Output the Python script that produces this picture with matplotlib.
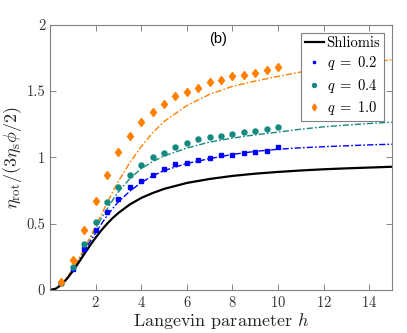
import matplotlib
matplotlib.use("Agg")
import matplotlib.pyplot as plt

plt.rcParams["font.family"] = "serif"
plt.rcParams["font.serif"] = ["cmr10", "DejaVu Serif"]
plt.rcParams["mathtext.fontset"] = "cm"
plt.rcParams["axes.formatter.use_mathtext"] = True

# theory curves
h_line = [0, 0.25, 0.5, 0.75, 1, 1.25, 1.5, 1.75, 2, 2.25, 2.5, 2.75, 3, 3.5, 4, 4.5, 5,
          6, 7, 8, 9, 10, 11, 12, 13, 14, 15]
shliomis = [0, 0.010, 0.040, 0.087, 0.143, 0.206, 0.271, 0.335, 0.395, 0.450, 0.499, 0.543, 0.581,
            0.645, 0.694, 0.731, 0.762, 0.807, 0.837, 0.860, 0.877, 0.890, 0.901, 0.910, 0.917, 0.923, 0.929]
line_q02 = [0, 0.011, 0.042, 0.090, 0.150, 0.218, 0.290, 0.362, 0.430, 0.498, 0.560, 0.615, 0.665,
            0.745, 0.810, 0.860, 0.900, 0.954, 0.990, 1.022, 1.045, 1.061, 1.072, 1.080, 1.087, 1.094, 1.099]
line_q04 = [0, 0.011, 0.043, 0.093, 0.155, 0.228, 0.305, 0.386, 0.465, 0.540, 0.610, 0.678, 0.740,
            0.840, 0.915, 0.968, 1.010, 1.070, 1.115, 1.145, 1.170, 1.190, 1.212, 1.230, 1.243, 1.255, 1.265]
line_q10 = [0, 0.012, 0.045, 0.097, 0.160, 0.233, 0.310, 0.395, 0.480, 0.568, 0.655, 0.740, 0.820,
            0.960, 1.080, 1.185, 1.270, 1.390, 1.475, 1.535, 1.575, 1.610, 1.643, 1.670, 1.693, 1.715, 1.735]

# simulation points
h_pts = [0.5, 1, 1.5, 2, 2.5, 3, 3.5, 4, 4.5, 5, 5.5, 6, 6.5, 7, 7.5, 8, 8.5, 9, 9.5, 10]
pts_q02 = [0.05, 0.155, 0.31, 0.455, 0.585, 0.685, 0.775, 0.823, 0.87, 0.91, 0.95, 0.955, 0.98,
           0.995, 1.015, 1.02, 1.03, 1.04, 1.05, 1.075]
pts_q04 = [0.05, 0.175, 0.35, 0.515, 0.66, 0.78, 0.87, 0.94, 1.0, 1.035, 1.075, 1.11, 1.135,
           1.15, 1.16, 1.175, 1.19, 1.2, 1.215, 1.225]
pts_q10 = [0.063, 0.23, 0.45, 0.67, 0.87, 1.04, 1.16, 1.27, 1.34, 1.405, 1.46, 1.49, 1.52,
           1.57, 1.58, 1.61, 1.62, 1.635, 1.66, 1.68]

blue = "#0000ff"
teal = "#14897f"
orange = "#ff8000"

fig = plt.figure(figsize=(4.07, 3.33), dpi=100)
ax = fig.add_axes([0.123, 0.129, 0.840, 0.797])

dd = (4.5, 1.5, 1.2, 1.5)
ax.plot(h_line, line_q02, color=blue, lw=1.0, dashes=dd)
ax.plot(h_line, line_q04, color=teal, lw=1.0, dashes=dd)
ax.plot(h_line, line_q10, color=orange, lw=1.0, dashes=dd)
ax.plot(h_line, shliomis, "-", color="black", lw=1.6, label="Shliomis")

ax.plot(h_pts, pts_q02, "s", color=blue, ms=2.6, ls="none", label=r"$q\;=\;0.2$")
ax.plot(h_pts, pts_q04, "o", color=teal, ms=3.6, ls="none", label=r"$q\;=\;0.4$")
ax.plot(h_pts, pts_q10, "d", color=orange, ms=4.4, ls="none", label=r"$q\;=\;1.0$")

ax.set_xlim(0, 15)
ax.set_ylim(0, 2)
ax.set_xticks([2, 4, 6, 8, 10, 12, 14])
ax.set_yticks([0, 0.5, 1, 1.5, 2])
ax.set_yticklabels(["0", "0.5", "1", "1.5", "2"])
ax.tick_params(direction="in", top=True, right=True, length=4, width=0.6,
               colors="#707070", labelcolor="#333333", labelsize=10.5)
for s in ax.spines.values():
    s.set_color("#808080")
    s.set_linewidth(0.8)

ax.set_xlabel(r"Langevin parameter $h$", fontsize=13, color="#262626", labelpad=1)
ax.set_ylabel(r"$\eta_{\rm rot}/(3\eta_{\rm s}\phi/2)$", fontsize=13, color="#262626", labelpad=2)

ax.text(7.37, 1.89, "(b)", family="Liberation Sans", fontsize=10.5, ha="center", va="center")

leg = ax.legend(loc="upper right", fontsize=10.5, fancybox=False, framealpha=1,
                edgecolor="#808080", handlelength=1.3, handletextpad=0.2,
                borderpad=0.25, labelspacing=0.3, borderaxespad=0.55, markerscale=0.8)
leg.get_frame().set_linewidth(0.8)

fig.savefig("out.png", dpi=100)
